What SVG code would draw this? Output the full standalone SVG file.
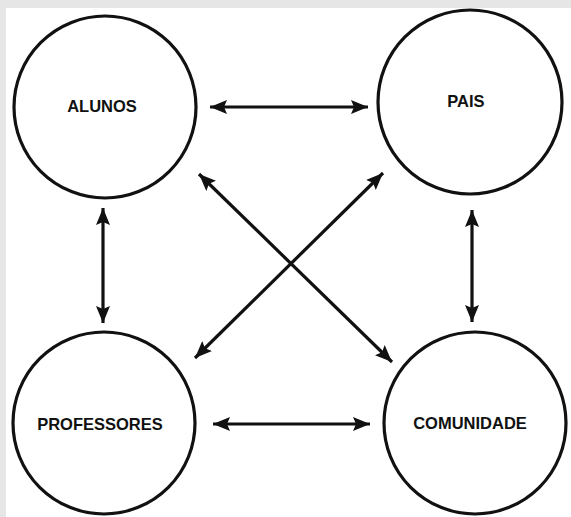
<svg xmlns="http://www.w3.org/2000/svg" width="571" height="517" viewBox="0 0 571 517">
<defs>
<style>
.node circle{fill:#fff;stroke:#111;stroke-width:3.2}
.node text{font-family:"Liberation Sans",Arial,sans-serif;font-weight:bold;font-size:16.5px;fill:#111;text-anchor:middle}
.conn line{stroke:#111;stroke-width:3.2;marker-start:url(#ah);marker-end:url(#ah)}
</style>
<marker id="ah" markerUnits="userSpaceOnUse" markerWidth="18" markerHeight="14" refX="17" refY="7" orient="auto-start-reverse" viewBox="0 0 18 14">
<path d="M0,0 L17,7 L0,14 L3,7 z" fill="#111"/>
</marker>
</defs>
<rect x="0" y="0" width="571" height="517" fill="#e6e6e6"/>
<rect x="6" y="8" width="565" height="509" fill="#fff"/>
<g id="alunos" class="node"><circle cx="105" cy="107" r="91"/><text x="102" y="112">ALUNOS</text></g>
<g id="pais" class="node"><circle cx="470" cy="102" r="92"/><text x="466" y="107">PAIS</text></g>
<g id="professores" class="node"><circle cx="104" cy="423" r="91"/><text x="100" y="430">PROFESSORES</text></g>
<g id="comunidade" class="node"><circle cx="475" cy="423" r="91"/><text x="470" y="429">COMUNIDADE</text></g>
<g id="connectors" class="conn">
<line x1="210" y1="107" x2="368" y2="107"/>
<line x1="213" y1="424" x2="370" y2="424"/>
<line x1="103" y1="208" x2="103" y2="323"/>
<line x1="472" y1="210" x2="472" y2="322"/>
<line x1="199" y1="174" x2="392" y2="362"/>
<line x1="383" y1="173" x2="195" y2="358"/>
</g>
</svg>
